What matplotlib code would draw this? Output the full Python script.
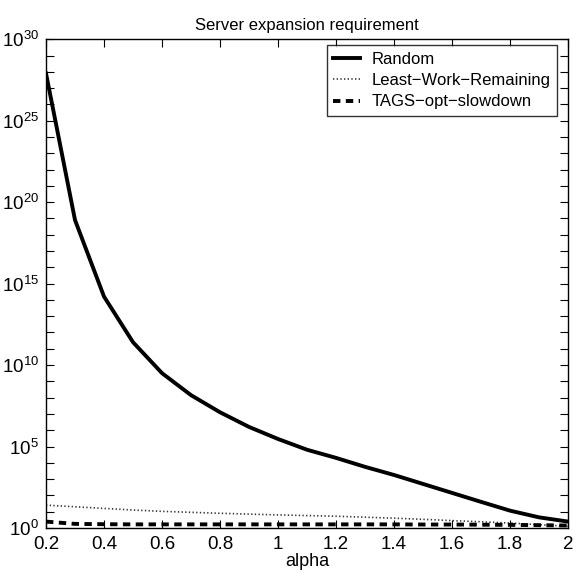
import matplotlib
matplotlib.use('Agg')
import matplotlib.pyplot as plt
import matplotlib.ticker as mticker
import numpy as np

plt.rcParams['font.family'] = ['Liberation Sans', 'DejaVu Sans']

# alpha values
alpha = [0.2, 0.3, 0.4, 0.5, 0.6, 0.7, 0.8, 0.9, 1.0, 1.1,
         1.2, 1.3, 1.4, 1.5, 1.6, 1.7, 1.8, 1.9, 2.0]

# log10 of server expansion
random_log = [27.9, 18.9, 14.2, 11.4, 9.5, 8.15, 7.1, 6.2, 5.46, 4.8,
              4.3, 3.75, 3.25, 2.7, 2.15, 1.6, 1.06, 0.65, 0.39]
lwr_log = [1.4, 1.3, 1.2, 1.1, 1.02, 0.96, 0.9, 0.85, 0.8, 0.76,
           0.72, 0.66, 0.6, 0.53, 0.45, 0.38, 0.3, 0.2, 0.1]
tags_log = [0.39, 0.25, 0.23, 0.22, 0.22, 0.22, 0.22, 0.22, 0.22, 0.22,
            0.22, 0.22, 0.22, 0.21, 0.21, 0.2, 0.19, 0.17, 0.15]

random_vals = 10.0 ** np.array(random_log)
lwr_vals = 10.0 ** np.array(lwr_log)
tags_vals = 10.0 ** np.array(tags_log)

fig = plt.figure(figsize=(5.78, 5.77), dpi=100)
ax = fig.add_axes([0.0796, 0.085, 0.9034, 0.847])

ax.plot(alpha, random_vals, color='black', lw=2.8, label='Random')
ax.plot(alpha, lwr_vals, color='0.2', lw=1.2, linestyle=(0, (0.8, 1.4)),
        label='Least\u2212Work\u2212Remaining')
ax.plot(alpha, tags_vals, color='black', lw=2.8, linestyle=(0, (1.9, 1.4)),
        label='TAGS\u2212opt\u2212slowdown')

ax.set_yscale('log')
ax.set_xlim(0.2, 2)
ax.set_ylim(1, 1e30)

ax.set_xticks(np.arange(0.2, 2.01, 0.2))
ax.xaxis.set_major_formatter(mticker.FuncFormatter(lambda v, p: ('%g' % round(v, 1))))
ax.yaxis.set_major_locator(mticker.FixedLocator([10.0 ** k for k in range(0, 31, 5)]))
ax.yaxis.set_minor_locator(mticker.FixedLocator([10.0 ** k for k in range(0, 31)]))
ax.yaxis.set_minor_formatter(mticker.NullFormatter())
ax.yaxis.set_major_formatter(mticker.FuncFormatter(
    lambda v, p: r'$\mathregular{10^{%d}}$' % int(round(np.log10(v)))))

ax.tick_params(which='both', direction='in', top=True, right=True,
               length=5.5, width=0.8, labelsize=13.5)
ax.tick_params(axis='x', pad=6)
ax.tick_params(axis='y', pad=5)
for s in ax.spines.values():
    s.set_linewidth(1.0)

ax.set_title('Server expansion requirement', fontsize=12, pad=7)
ax.set_xlabel('alpha', fontsize=13, labelpad=0)

leg = ax.legend(loc='upper right', bbox_to_anchor=(0.979, 0.988),
                fontsize=12, frameon=True, fancybox=False,
                edgecolor='black', handlelength=1.6, borderpad=0.4,
                labelspacing=0.38, handletextpad=0.7, borderaxespad=0.0)
leg.get_frame().set_linewidth(1.0)

fig.savefig('out.png', dpi=100)
